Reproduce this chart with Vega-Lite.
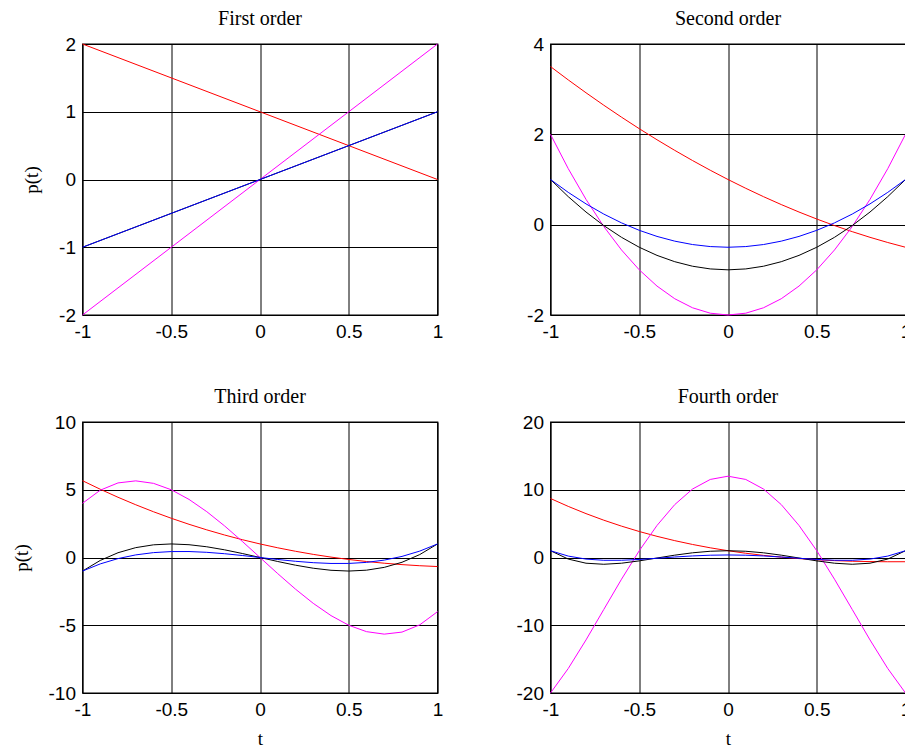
{
  "$schema": "https://vega.github.io/schema/vega-lite/v6.json",
  "background": "white",
  "padding": {"left": 10.5, "top": 8, "right": 5, "bottom": 5},
  "datasets": {
    "o1": [
      {"t": -1, "L": 2, "H": -2, "T": -1, "P": -1},
      {"t": 0, "L": 1, "H": 0, "T": 0, "P": 0},
      {"t": 1, "L": 0, "H": 2, "T": 1, "P": 1}
    ],
    "o2": [
      {"t": -1, "L": 3.5, "P": 1, "T": 1, "H": 2},
      {"t": -0.9, "L": 3.205, "P": 0.715, "T": 0.62, "H": 1.24},
      {"t": -0.8, "L": 2.92, "P": 0.46, "T": 0.28, "H": 0.56},
      {"t": -0.7, "L": 2.645, "P": 0.235, "T": -0.02, "H": -0.04},
      {"t": -0.6, "L": 2.38, "P": 0.04, "T": -0.28, "H": -0.56},
      {"t": -0.5, "L": 2.125, "P": -0.125, "T": -0.5, "H": -1},
      {"t": -0.4, "L": 1.88, "P": -0.26, "T": -0.68, "H": -1.36},
      {"t": -0.3, "L": 1.645, "P": -0.365, "T": -0.82, "H": -1.64},
      {"t": -0.2, "L": 1.42, "P": -0.44, "T": -0.92, "H": -1.84},
      {"t": -0.1, "L": 1.205, "P": -0.485, "T": -0.98, "H": -1.96},
      {"t": 0, "L": 1, "P": -0.5, "T": -1, "H": -2},
      {"t": 0.1, "L": 0.805, "P": -0.485, "T": -0.98, "H": -1.96},
      {"t": 0.2, "L": 0.62, "P": -0.44, "T": -0.92, "H": -1.84},
      {"t": 0.3, "L": 0.445, "P": -0.365, "T": -0.82, "H": -1.64},
      {"t": 0.4, "L": 0.28, "P": -0.26, "T": -0.68, "H": -1.36},
      {"t": 0.5, "L": 0.125, "P": -0.125, "T": -0.5, "H": -1},
      {"t": 0.6, "L": -0.02, "P": 0.04, "T": -0.28, "H": -0.56},
      {"t": 0.7, "L": -0.155, "P": 0.235, "T": -0.02, "H": -0.04},
      {"t": 0.8, "L": -0.28, "P": 0.46, "T": 0.28, "H": 0.56},
      {"t": 0.9, "L": -0.395, "P": 0.715, "T": 0.62, "H": 1.24},
      {"t": 1, "L": -0.5, "P": 1, "T": 1, "H": 2}
    ],
    "o3": [
      {"t": -1, "L": 5.667, "P": -1, "T": -1, "H": 4},
      {"t": -0.9, "L": 5.037, "P": -0.4725, "T": -0.216, "H": 4.968},
      {"t": -0.8, "L": 4.445, "P": -0.08, "T": 0.352, "H": 5.504},
      {"t": -0.7, "L": 3.892, "P": 0.1925, "T": 0.728, "H": 5.656},
      {"t": -0.6, "L": 3.376, "P": 0.36, "T": 0.936, "H": 5.472},
      {"t": -0.5, "L": 2.896, "P": 0.4375, "T": 1, "H": 5},
      {"t": -0.4, "L": 2.451, "P": 0.44, "T": 0.944, "H": 4.288},
      {"t": -0.3, "L": 2.04, "P": 0.3825, "T": 0.792, "H": 3.384},
      {"t": -0.2, "L": 1.661, "P": 0.28, "T": 0.568, "H": 2.336},
      {"t": -0.1, "L": 1.315, "P": 0.1475, "T": 0.296, "H": 1.192},
      {"t": 0, "L": 1, "P": 0, "T": 0, "H": 0},
      {"t": 0.1, "L": 0.715, "P": -0.1475, "T": -0.296, "H": -1.192},
      {"t": 0.2, "L": 0.459, "P": -0.28, "T": -0.568, "H": -2.336},
      {"t": 0.3, "L": 0.2305, "P": -0.3825, "T": -0.792, "H": -3.384},
      {"t": 0.4, "L": 0.029, "P": -0.44, "T": -0.944, "H": -4.288},
      {"t": 0.5, "L": -0.146, "P": -0.4375, "T": -1, "H": -5},
      {"t": 0.6, "L": -0.296, "P": -0.36, "T": -0.936, "H": -5.472},
      {"t": 0.7, "L": -0.422, "P": -0.1925, "T": -0.728, "H": -5.656},
      {"t": 0.8, "L": -0.525, "P": 0.08, "T": -0.352, "H": -5.504},
      {"t": 0.9, "L": -0.607, "P": 0.4725, "T": 0.216, "H": -4.968},
      {"t": 1, "L": -0.667, "P": 1, "T": 1, "H": -4}
    ],
    "o4": [
      {"t": -1, "L": 8.708, "P": 1, "T": 1, "H": -20},
      {"t": -0.9, "L": 7.543, "P": 0.208, "T": -0.231, "H": -16.382},
      {"t": -0.8, "L": 6.478, "P": -0.233, "T": -0.843, "H": -12.166},
      {"t": -0.7, "L": 5.509, "P": -0.412, "T": -0.999, "H": -7.678},
      {"t": -0.6, "L": 4.629, "P": -0.408, "T": -0.843, "H": -3.206},
      {"t": -0.5, "L": 3.836, "P": -0.289, "T": -0.5, "H": 1},
      {"t": -0.4, "L": 3.124, "P": -0.113, "T": -0.075, "H": 4.73},
      {"t": -0.3, "L": 2.488, "P": 0.073, "T": 0.345, "H": 7.81},
      {"t": -0.2, "L": 1.925, "P": 0.232, "T": 0.693, "H": 10.106},
      {"t": -0.1, "L": 1.431, "P": 0.338, "T": 0.921, "H": 11.522},
      {"t": 0, "L": 1, "P": 0.375, "T": 1, "H": 12},
      {"t": 0.1, "L": 0.629, "P": 0.338, "T": 0.921, "H": 11.522},
      {"t": 0.2, "L": 0.315, "P": 0.232, "T": 0.693, "H": 10.106},
      {"t": 0.3, "L": 0.052, "P": 0.073, "T": 0.345, "H": 7.81},
      {"t": 0.4, "L": -0.162, "P": -0.113, "T": -0.075, "H": 4.73},
      {"t": 0.5, "L": -0.331, "P": -0.289, "T": -0.5, "H": 1},
      {"t": 0.6, "L": -0.459, "P": -0.408, "T": -0.843, "H": -3.206},
      {"t": 0.7, "L": -0.549, "P": -0.412, "T": -0.999, "H": -7.678},
      {"t": 0.8, "L": -0.604, "P": -0.233, "T": -0.843, "H": -12.166},
      {"t": 0.9, "L": -0.629, "P": 0.208, "T": -0.231, "H": -16.382},
      {"t": 1, "L": -0.625, "P": 1, "T": 1, "H": -20}
    ]
  },
  "columns": 2,
  "spacing": {"row": 44, "column": 71},
  "concat": [
    {
      "title": "First order",
      "width": 355, "height": 271,
      "data": {"name": "o1"},
      "encoding": {"x": {"field": "t", "type": "quantitative", "scale": {"domain": [-1, 1], "nice": false}, "axis": {"values": [-1, -0.5, 0, 0.5, 1], "title": null}}},
      "layer": [
        {"mark": {"type": "line", "color": "#ff0000", "strokeWidth": 1}, "encoding": {"y": {"field": "L", "type": "quantitative", "scale": {"domain": [-2, 2], "nice": false}, "axis": {"values": [-2, -1, 0, 1, 2], "title": "p(t)"}}}},
        {"mark": {"type": "line", "color": "#ff00ff", "strokeWidth": 1}, "encoding": {"y": {"field": "H", "type": "quantitative", "scale": {"domain": [-2, 2], "nice": false}, "axis": {"values": [-2, -1, 0, 1, 2], "title": "p(t)"}}}},
        {"mark": {"type": "line", "color": "#000000", "strokeWidth": 1}, "encoding": {"y": {"field": "T", "type": "quantitative", "scale": {"domain": [-2, 2], "nice": false}, "axis": {"values": [-2, -1, 0, 1, 2], "title": "p(t)"}}}},
        {"mark": {"type": "line", "color": "#0000ff", "strokeWidth": 1}, "encoding": {"y": {"field": "P", "type": "quantitative", "scale": {"domain": [-2, 2], "nice": false}, "axis": {"values": [-2, -1, 0, 1, 2], "title": "p(t)"}}}}
      ]
    },
    {
      "title": "Second order",
      "width": 355, "height": 271,
      "data": {"name": "o2"},
      "encoding": {"x": {"field": "t", "type": "quantitative", "scale": {"domain": [-1, 1], "nice": false}, "axis": {"values": [-1, -0.5, 0, 0.5, 1], "title": null}}},
      "layer": [
        {"mark": {"type": "line", "color": "#ff0000", "strokeWidth": 1}, "encoding": {"y": {"field": "L", "type": "quantitative", "scale": {"domain": [-2, 4], "nice": false}, "axis": {"values": [-2, 0, 2, 4], "title": null}}}},
        {"mark": {"type": "line", "color": "#ff00ff", "strokeWidth": 1}, "encoding": {"y": {"field": "H", "type": "quantitative", "scale": {"domain": [-2, 4], "nice": false}, "axis": {"values": [-2, 0, 2, 4], "title": null}}}},
        {"mark": {"type": "line", "color": "#000000", "strokeWidth": 1}, "encoding": {"y": {"field": "T", "type": "quantitative", "scale": {"domain": [-2, 4], "nice": false}, "axis": {"values": [-2, 0, 2, 4], "title": null}}}},
        {"mark": {"type": "line", "color": "#0000ff", "strokeWidth": 1}, "encoding": {"y": {"field": "P", "type": "quantitative", "scale": {"domain": [-2, 4], "nice": false}, "axis": {"values": [-2, 0, 2, 4], "title": null}}}}
      ]
    },
    {
      "title": "Third order",
      "width": 355, "height": 271,
      "data": {"name": "o3"},
      "encoding": {"x": {"field": "t", "type": "quantitative", "scale": {"domain": [-1, 1], "nice": false}, "axis": {"values": [-1, -0.5, 0, 0.5, 1], "title": "t"}}},
      "layer": [
        {"mark": {"type": "line", "color": "#ff0000", "strokeWidth": 1}, "encoding": {"y": {"field": "L", "type": "quantitative", "scale": {"domain": [-10, 10], "nice": false}, "axis": {"values": [-10, -5, 0, 5, 10], "title": "p(t)"}}}},
        {"mark": {"type": "line", "color": "#ff00ff", "strokeWidth": 1}, "encoding": {"y": {"field": "H", "type": "quantitative", "scale": {"domain": [-10, 10], "nice": false}, "axis": {"values": [-10, -5, 0, 5, 10], "title": "p(t)"}}}},
        {"mark": {"type": "line", "color": "#000000", "strokeWidth": 1}, "encoding": {"y": {"field": "T", "type": "quantitative", "scale": {"domain": [-10, 10], "nice": false}, "axis": {"values": [-10, -5, 0, 5, 10], "title": "p(t)"}}}},
        {"mark": {"type": "line", "color": "#0000ff", "strokeWidth": 1}, "encoding": {"y": {"field": "P", "type": "quantitative", "scale": {"domain": [-10, 10], "nice": false}, "axis": {"values": [-10, -5, 0, 5, 10], "title": "p(t)"}}}}
      ]
    },
    {
      "title": "Fourth order",
      "width": 355, "height": 271,
      "data": {"name": "o4"},
      "encoding": {"x": {"field": "t", "type": "quantitative", "scale": {"domain": [-1, 1], "nice": false}, "axis": {"values": [-1, -0.5, 0, 0.5, 1], "title": "t"}}},
      "layer": [
        {"mark": {"type": "line", "color": "#ff0000", "strokeWidth": 1}, "encoding": {"y": {"field": "L", "type": "quantitative", "scale": {"domain": [-20, 20], "nice": false}, "axis": {"values": [-20, -10, 0, 10, 20], "title": null}}}},
        {"mark": {"type": "line", "color": "#ff00ff", "strokeWidth": 1}, "encoding": {"y": {"field": "H", "type": "quantitative", "scale": {"domain": [-20, 20], "nice": false}, "axis": {"values": [-20, -10, 0, 10, 20], "title": null}}}},
        {"mark": {"type": "line", "color": "#000000", "strokeWidth": 1}, "encoding": {"y": {"field": "T", "type": "quantitative", "scale": {"domain": [-20, 20], "nice": false}, "axis": {"values": [-20, -10, 0, 10, 20], "title": null}}}},
        {"mark": {"type": "line", "color": "#0000ff", "strokeWidth": 1}, "encoding": {"y": {"field": "P", "type": "quantitative", "scale": {"domain": [-20, 20], "nice": false}, "axis": {"values": [-20, -10, 0, 10, 20], "title": null}}}}
      ]
    }
  ],
  "config": {
    "view": {"stroke": "#000000", "strokeWidth": 1.3},
    "axis": {
      "grid": true, "gridColor": "#000000", "gridOpacity": 1, "gridWidth": 1,
      "domain": false, "ticks": false,
      "labelFont": "Liberation Sans", "labelFontSize": 19, "labelColor": "#000000", "labelPadding": 7,
      "labelExpr": "'' + datum.value", "labelOverlap": false, "labelFlush": false,
      "titleFont": "Liberation Serif", "titleFontSize": 19, "titleFontWeight": "normal", "titleColor": "#000000", "titlePadding": 10
    },
    "axisY": {"titlePadding": 17},
    "title": {"font": "Liberation Serif", "fontSize": 20, "fontWeight": "normal", "color": "#000000", "frame": "group", "baseline": "alphabetic", "offset": 6}
  }
}
